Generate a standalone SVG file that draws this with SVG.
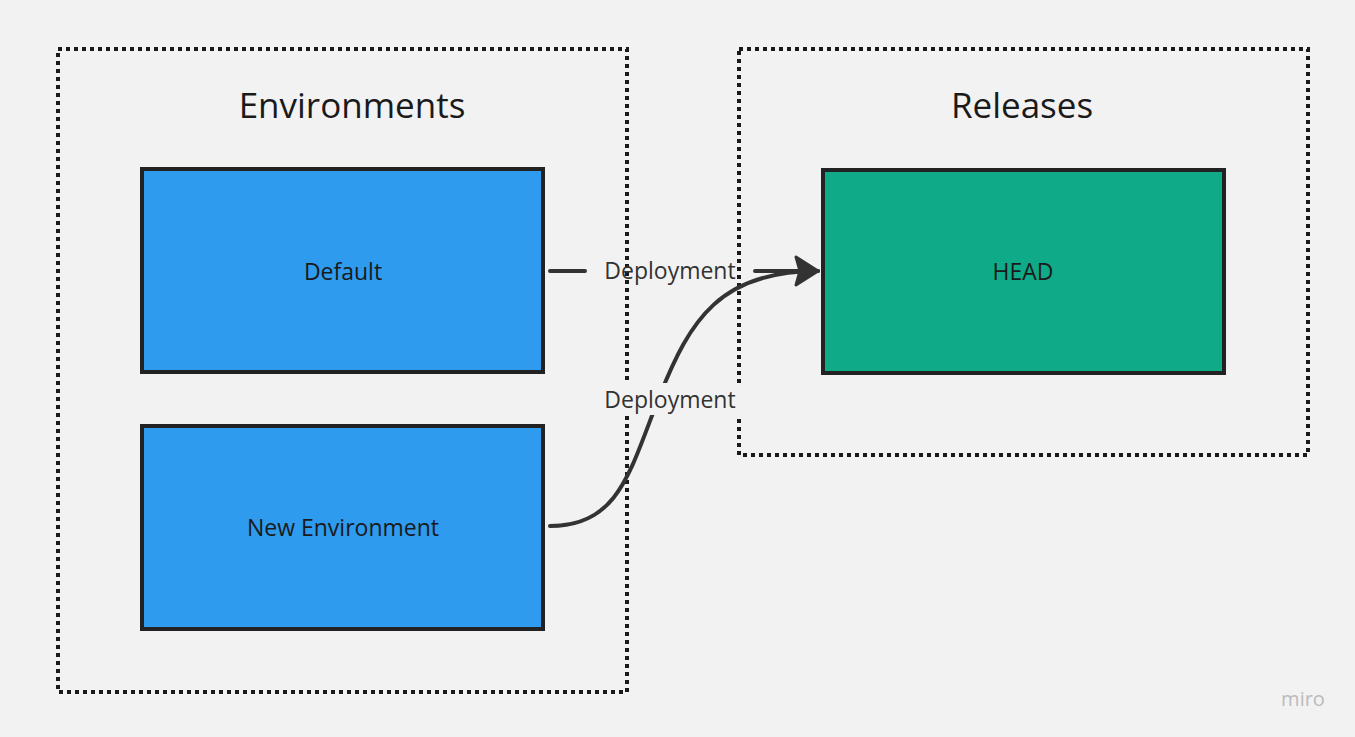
<svg xmlns="http://www.w3.org/2000/svg" width="1355" height="737" viewBox="0 0 1355 737">
<style>
.frame{fill:none;stroke:#1a1a1a;stroke-width:4;stroke-dasharray:4 4}
.box{stroke:#222;stroke-width:4}
.t{font-family:"Open Sans","Noto Sans",sans-serif;fill:#1a1a1a;text-anchor:middle}
.c{fill:none;stroke:#333;stroke-width:4;stroke-linecap:round}
.lbl{font-family:"Open Sans","Noto Sans",sans-serif;font-size:23px;fill:#333;text-anchor:middle}
</style>
<defs>
<marker id="ah" markerUnits="userSpaceOnUse" markerWidth="40" markerHeight="40" refX="30" refY="20" orient="auto">
<path d="M8,6 L30,20 L8,34 L12,20 Z" fill="#333" stroke="#333" stroke-width="3" stroke-linejoin="round"/>
</marker>
</defs>
<rect width="1355" height="737" fill="#f2f2f2"/>
<g id="environments"><rect class="frame" x="58" y="49" width="569" height="643"/><text class="t" x="352" y="118" font-size="35">Environments</text></g>
<g id="releases"><rect class="frame" x="739" y="49" width="569" height="406"/><text class="t" x="1022" y="118" font-size="35">Releases</text></g>
<g id="default"><rect class="box" x="142" y="169" width="401" height="203" fill="#2e9bef"/><text class="t" x="343" y="280" font-size="23">Default</text></g>
<g id="new-environment"><rect class="box" x="142" y="426" width="401" height="203" fill="#2e9bef"/><text class="t" x="343" y="536" font-size="23">New Environment</text></g>
<g id="head"><rect class="box" x="823" y="170" width="401" height="203" fill="#0faa88"/><text class="t" x="1023" y="280" font-size="23">HEAD</text></g>
<g id="connectors">
<path class="c" d="M550,271 L585,271 M755,271 L818,271" marker-end="url(#ah)"/>
<path class="c" d="M550,526 C620,526 630,470 660,395 C690,320 720,271 818,271"/>
<rect x="592" y="383" width="156" height="32" fill="#f2f2f2"/>
<text class="lbl" x="670" y="279">Deployment</text>
<text class="lbl" x="670" y="408">Deployment</text>
</g>
<text x="1303" y="706" font-family="Open Sans,sans-serif" font-size="20" fill="#bbb" text-anchor="middle">miro</text>
</svg>
